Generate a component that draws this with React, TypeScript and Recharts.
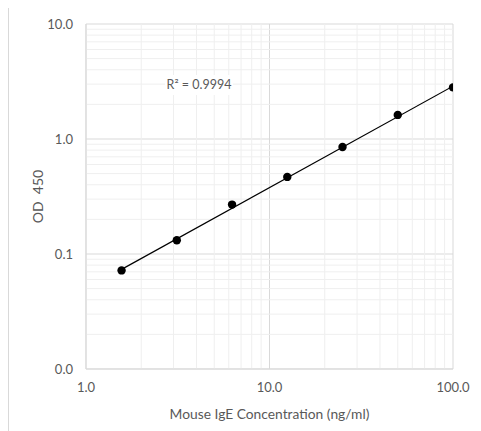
import React from 'react';
import {
  ScatterChart,
  Scatter,
  XAxis,
  YAxis,
  CartesianGrid,
  ReferenceLine,
  ReferenceDot,
} from 'recharts';

// Measured standards
const concentrations = [1.5625, 3.125, 6.25, 12.5, 25, 50, 100];
const od450 = [0.072, 0.1315, 0.269, 0.468, 0.851, 1.62, 2.81];

// Power trendline endpoints
const trendX = [1.5625, 100];
const trendY = [0.0735, 2.88];

// Axis ticks
const xTicks = [1, 10, 100];
const yTicks = [0.01, 0.1, 1, 10];
const xMinor = [2, 3, 4, 5, 6, 7, 8, 9, 20, 30, 40, 50, 60, 70, 80, 90];
const yMinor = [
  0.02, 0.03, 0.04, 0.05, 0.06, 0.07, 0.08, 0.09,
  0.2, 0.3, 0.4, 0.5, 0.6, 0.7, 0.8, 0.9,
  2, 3, 4, 5, 6, 7, 8, 9,
];

const r2Text = 'R² = 0.9994';
const r2Pos = { x: 4.13, y: 2.95 };
const xTitle = 'Mouse IgE Concentration (ng/ml)';
const yTitle = 'OD\u00a0\u00a0450';

const points = concentrations.map((x, i) => ({ x, y: od450[i] }));
const trend = trendX.map((x, i) => ({ x, y: trendY[i] }));

const FONT = 'Lato, "Liberation Sans", sans-serif';
const TEXT = '#595959';

const Dot = (props: any) => (
  <circle cx={props.cx} cy={props.cy} r={4.2} fill="#000" />
);

const R2Shape = (props: any) => {
  const { cx, cy } = props;
  return (
    <g>
      <rect x={cx - 34} y={cy - 10} width={68} height={20} fill="#fff" />
      <text
        x={cx}
        y={cy}
        textAnchor="middle"
        dominantBaseline="central"
        fill={TEXT}
        fontFamily={FONT}
        fontSize={12.5}
      >
        {r2Text}
      </text>
    </g>
  );
};

export default function App() {
  return (
    <div
      style={{
        width: 473,
        height: 424,
        marginTop: -1,
        borderTop: '1px solid #d9d9d9',
        borderLeft: '1px solid #d9d9d9',
        boxSizing: 'border-box',
        background: '#fff',
      }}
    >
      <ScatterChart
        width={472}
        height={423}
        margin={{ top: 16, right: 28, bottom: 0, left: 17 }}
        style={{ fontFamily: FONT }}
      >
        {xMinor.map((v) => (
          <ReferenceLine key={'vx' + v} x={v} stroke="#efefef" strokeWidth={1} ifOverflow="hidden" />
        ))}
        {yMinor.map((v) => (
          <ReferenceLine key={'hy' + v} y={v} stroke="#efefef" strokeWidth={1} ifOverflow="hidden" />
        ))}
        <CartesianGrid stroke="#d9d9d9" />
        <XAxis
          type="number"
          dataKey="x"
          scale="log"
          domain={[1, 100]}
          ticks={xTicks}
          allowDataOverflow
          tickFormatter={(v: number) => v.toFixed(1)}
          tickLine={false}
          axisLine={{ stroke: '#d9d9d9' }}
          tick={{ fill: TEXT, fontSize: 13, fontFamily: FONT }}
          tickMargin={8}
          height={62}
          label={{
            value: xTitle,
            position: 'insideBottom',
            offset: 12,
            fill: TEXT,
            fontSize: 13.8,
            fontFamily: FONT,
          }}
        />
        <YAxis
          type="number"
          dataKey="y"
          scale="log"
          domain={[0.01, 10]}
          ticks={yTicks}
          allowDataOverflow
          tickFormatter={(v: number) => v.toFixed(1)}
          tickLine={false}
          axisLine={{ stroke: '#d9d9d9' }}
          tick={{ fill: TEXT, fontSize: 13, fontFamily: FONT }}
          tickMargin={7}
          width={60}
          label={{
            value: yTitle,
            angle: -90,
            position: 'insideLeft',
            offset: 12,
            fill: TEXT,
            fontSize: 14,
            fontFamily: FONT,
            style: { textAnchor: 'middle' },
          }}
        />
        <Scatter
          data={trend}
          line={{ stroke: '#000', strokeWidth: 1.2 }}
          shape={() => null}
          isAnimationActive={false}
        />
        <Scatter data={points} shape={<Dot />} isAnimationActive={false} />
        <ReferenceDot x={r2Pos.x} y={r2Pos.y} r={0} shape={<R2Shape />} />
      </ScatterChart>
    </div>
  );
}
